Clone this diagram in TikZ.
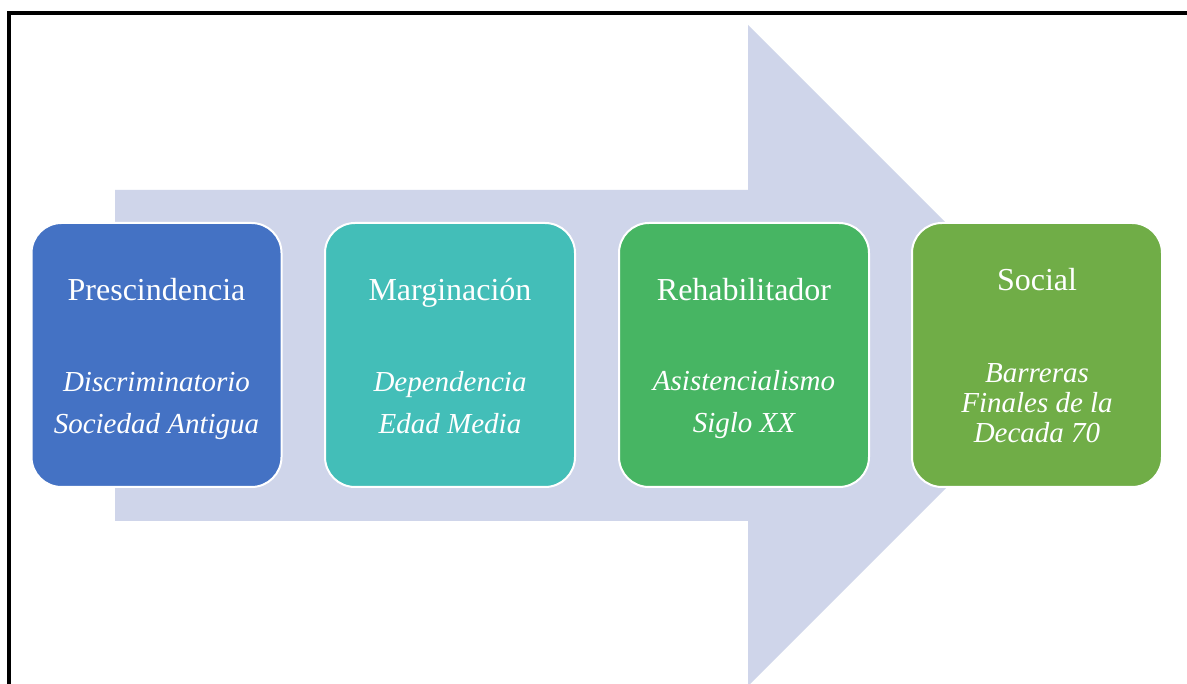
\documentclass[tikz,border=0pt]{standalone}
\usepackage{fontspec}
\setmainfont{Liberation Serif}
\definecolor{arrowfill}{HTML}{CFD5EA}
\definecolor{cA}{HTML}{4472C4}
\definecolor{cB}{HTML}{43BEB8}
\definecolor{cC}{HTML}{47B563}
\definecolor{cD}{HTML}{70AD47}
\begin{document}
\begin{tikzpicture}[x=1pt,y=-1pt,
  stage/.style={draw=white, line width=2pt, rounded corners=30pt,
    minimum width=250pt, minimum height=264pt, inner sep=0pt},
  ttl/.style={text=white, font=\fontsize{32}{36}\selectfont, inner sep=0pt, anchor=base},
  sub/.style={text=white, font=\fontsize{29}{42}\selectfont\itshape, align=center, inner sep=0pt},
  subtight/.style={sub, font=\fontsize{29}{30}\selectfont\itshape}]
\useasboundingbox (0,0) rectangle (1187,684);
\clip (0,0) rectangle (1187,684);
\fill[white] (0,0) rectangle (1187,684);
% big arrow
\fill[arrowfill] (115,190) -- (748,190) -- (748,25) -- (1078.5,355.5)
  -- (748,686) -- (748,521) -- (115,521) -- cycle;
% frame
\draw[line width=4pt, black] (9,690) -- (9,13.5) -- (1195,13.5);
% stages
\node[stage, fill=cA] (s1) at (156.5,355) {};
\node[stage, fill=cB] (s2) at (450,355) {};
\node[stage, fill=cC] (s3) at (744,355) {};
\node[stage, fill=cD] (s4) at (1037,355) {};
\node[ttl] (t1) at (156.5,300.5) {Prescindencia};
\node[ttl] (t2) at (450,300.5) {Marginación};
\node[ttl] (t3) at (744,300.5) {Rehabilitador};
\node[ttl] (t4) at (1037,290.5) {Social};
\node[sub] (b1) at (156.5,406) {Discriminatorio\\Sociedad Antigua};
\node[sub] (b2) at (450,403) {Dependencia\\Edad Media};
\node[sub] (b3) at (744,405) {Asistencialismo\\Siglo XX};
\node[subtight] (b4) at (1037,403) {Barreras\\Finales de la\\Decada 70};
\end{tikzpicture}
\end{document}
